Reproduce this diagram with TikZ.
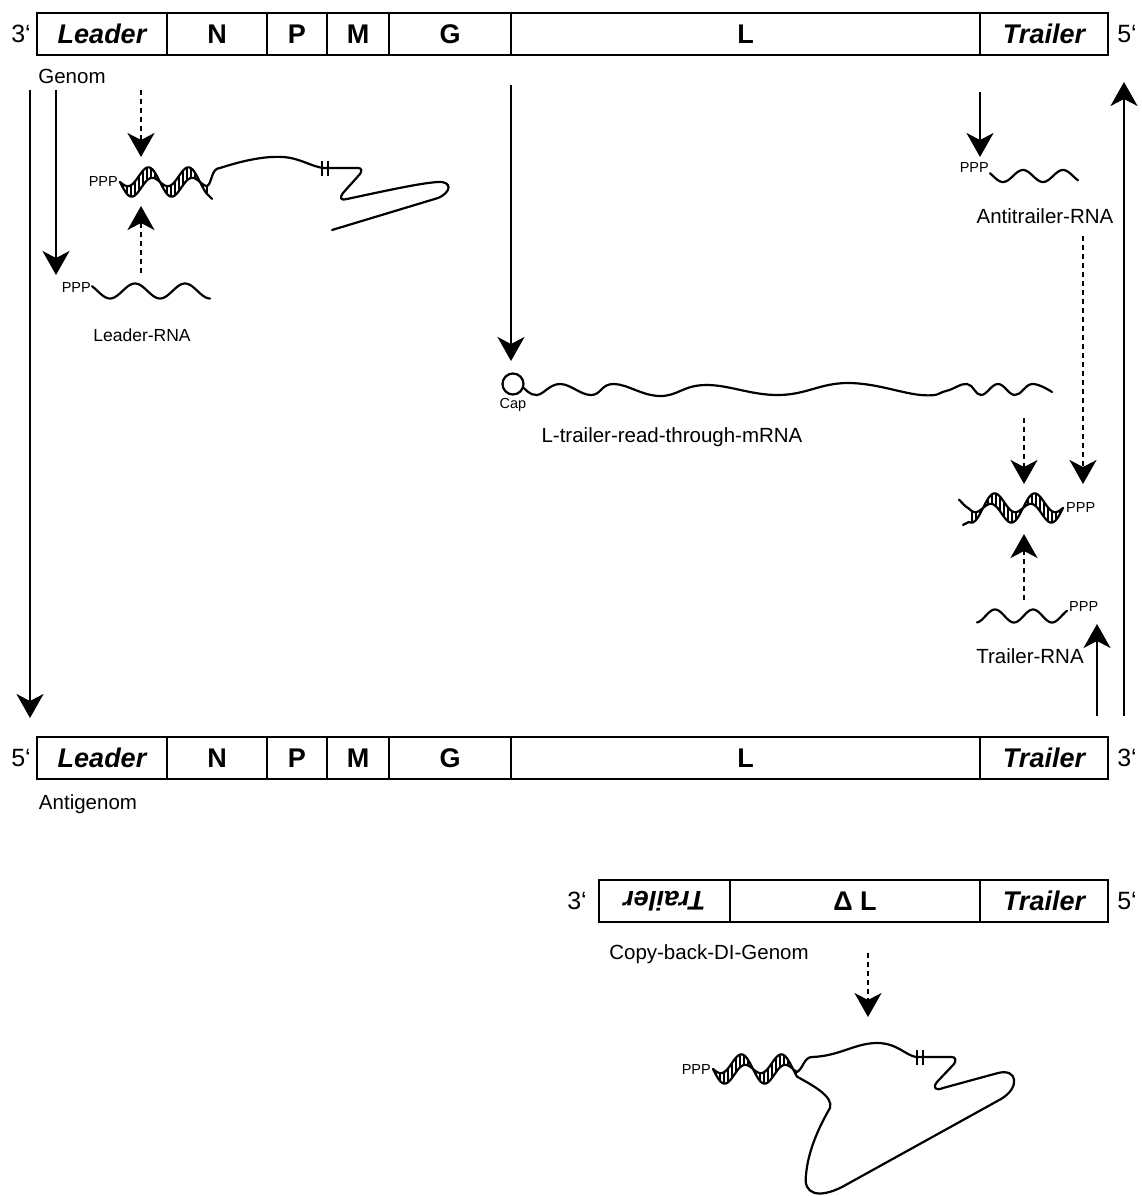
\documentclass[tikz,border=0pt]{standalone}
\usepackage{fontspec}
\setmainfont{Liberation Sans}
\usetikzlibrary{arrows.meta}

% double-stranded RNA stretch, a twisted hatched ribbon.
% #1 start x, #2 axis y, #3 length, #4 direction (+1/-1), #5 name prefix of the two strand ends
\newcommand\dsrna[5]{%
  \draw[strand] plot[domain=0:#3,samples=100,smooth]
     ({#1+#4*\x},{#2+9*sin(9*\x)+7.5*sin(4.5*\x)});
  \draw[strand] plot[domain=0:#3,samples=100,smooth]
     ({#1+#4*\x},{#2+9*sin(9*\x)-7.5*sin(4.5*\x)});
  \foreach \q in {3,7,...,#3}
    \draw[rung] ({#1+#4*\q},{#2+9*sin(9*\q)+7.5*sin(4.5*\q)})
             -- ({#1+#4*\q},{#2+9*sin(9*\q)-7.5*sin(4.5*\q)});
  \coordinate (#5a) at ({#1+#4*#3},{#2+9*sin(9*#3)+7.5*sin(4.5*#3)});
  \coordinate (#5b) at ({#1+#4*#3},{#2+9*sin(9*#3)-7.5*sin(4.5*#3)});
}

\begin{document}
\begin{tikzpicture}[x=1pt,y=-1pt,
  seg/.style={draw, line width=1.8pt, minimum height=42pt, inner sep=0pt, outer sep=0pt,
              font=\fontsize{27}{30}\selectfont\bfseries},
  segi/.style={seg, font=\fontsize{27}{30}\selectfont\bfseries\itshape},
  primelab/.style={font=\fontsize{25}{28}\selectfont, inner sep=0pt},
  lab/.style={font=\fontsize{20.5}{24}\selectfont, inner sep=0pt},
  smalllab/.style={font=\fontsize{17.5}{20}\selectfont, inner sep=0pt},
  ppp/.style={font=\fontsize{14.5}{16}\selectfont, inner sep=0pt},
  strand/.style={line width=2.2pt, line cap=round, line join=round},
  rung/.style={line width=1.5pt},
  bars/.style={line width=2.4pt},
  arr/.style={line width=2.2pt, -{Stealth[length=24pt,width=27pt,inset=7pt]}},
  darr/.style={arr, dash pattern=on 5pt off 4pt},
]
\useasboundingbox (0,0) rectangle (1142,1196);

% ---------- genome (3' -> 5') ----------
\node[primelab] (g3) at (21,34) {3‘};
\node[segi, minimum width=130pt] (gLeader) at (102,34) {Leader};
\node[seg,  minimum width=100pt] (gN) at (217,34) {N};
\node[seg,  minimum width=60pt]  (gP) at (297,34) {P};
\node[seg,  minimum width=62pt]  (gM) at (358,34) {M};
\node[seg,  minimum width=122pt] (gG) at (450,34) {G};
\node[seg,  minimum width=469pt] (gL) at (745.5,34) {L};
\node[segi, minimum width=128pt] (gTrailer) at (1044,34) {Trailer};
\node[primelab] (g5) at (1127,34) {5‘};
\node[lab] (genom) at (72,76) {Genom};

% ---------- antigenome (5' -> 3') ----------
\node[primelab] (a5) at (21,758) {5‘};
\node[segi, minimum width=130pt] (aLeader) at (102,758) {Leader};
\node[seg,  minimum width=100pt] (aN) at (217,758) {N};
\node[seg,  minimum width=60pt]  (aP) at (297,758) {P};
\node[seg,  minimum width=62pt]  (aM) at (358,758) {M};
\node[seg,  minimum width=122pt] (aG) at (450,758) {G};
\node[seg,  minimum width=469pt] (aL) at (745.5,758) {L};
\node[segi, minimum width=128pt] (aTrailer) at (1044,758) {Trailer};
\node[primelab] (a3) at (1127,758) {3‘};
\node[lab] (antigenom) at (88,804) {Antigenom};

% ---------- copy-back DI genome ----------
\node[primelab] (d3) at (577,901) {3‘};
\node[segi, minimum width=131pt, rotate=180] (dTrailerR) at (664.5,901) {Trailer};
\node[seg,  minimum width=250pt] (dL) at (855,901) {Δ L};
\node[segi, minimum width=128pt] (dTrailer) at (1044,901) {Trailer};
\node[primelab] (d5) at (1127,901) {5‘};
\node[lab] (dilab) at (709,954) {Copy-back-DI-Genom};

% ---------- replication / transcription arrows ----------
\coordinate (r1s) at (30,90);    \coordinate (r1e) at (30,718);
\coordinate (r2s) at (56,90);    \coordinate (r2e) at (56,275);
\coordinate (r3s) at (511,85);   \coordinate (r3e) at (511,361);
\coordinate (r4s) at (980,92);   \coordinate (r4e) at (980,157);
\coordinate (r5s) at (1124,716); \coordinate (r5e) at (1124,82);
\coordinate (r6s) at (1097,716); \coordinate (r6e) at (1097,624);
\draw[arr] (r1s) -- (r1e);
\draw[arr] (r2s) -- (r2e);
\draw[arr] (r3s) -- (r3e);
\draw[arr] (r4s) -- (r4e);
\draw[arr] (r5s) -- (r5e);
\draw[arr] (r6s) -- (r6e);

% ---------- annealing arrows ----------
\coordinate (h1s) at (141,90);   \coordinate (h1e) at (141,157);
\coordinate (h2s) at (141,273);  \coordinate (h2e) at (141,206);
\coordinate (h3s) at (1083,236); \coordinate (h3e) at (1083,484);
\coordinate (h4s) at (1024,418); \coordinate (h4e) at (1024,484);
\coordinate (h5s) at (1024,600); \coordinate (h5e) at (1024,534);
\coordinate (h6s) at (868,953);  \coordinate (h6e) at (868,1017);
\draw[darr] (h1s) -- (h1e);
\draw[darr] (h2s) -- (h2e);
\draw[darr] (h3s) -- (h3e);
\draw[darr] (h4s) -- (h4e);
\draw[darr] (h5s) -- (h5e);
\draw[darr] (h6s) -- (h6e);

% ---------- leader RNA ----------
\node[ppp, anchor=east] (lppp) at (91,288) {PPP};
\draw[strand] plot[domain=92:210,samples=80,smooth] (\x,{291+7.5*cos(7.2*(\x-110))});
\node[smalllab] (leaderrna) at (142,335) {Leader-RNA};

% ---------- leader RNA annealed to the genome ----------
\node[ppp, anchor=east] (hppp) at (118,182) {PPP};
\dsrna{120}{182}{87}{1}{lh}
\draw[strand] (lha) -- ++(5,5);
\draw[strand] (lhb) .. controls (212,184) and (211,168) .. (220,168)
  .. controls (245,160) and (265,156) .. (283,157)
  .. controls (300,158) and (312,167) .. (324,168) -- (358,168)
  .. controls (362,168) and (362,171) .. (360,174) -- (343,193)
  .. controls (339,198) and (341,201) .. (347,199)
  .. controls (380,192) and (420,183) .. (438,182)
  .. controls (452,181) and (452,192) .. (438,198) -- (332,230);
\draw[bars] (322,161) -- (322,176) (328,161) -- (328,176);

% ---------- L-trailer read-through mRNA ----------
\draw[line width=2.2pt] (513,384) circle (10.5);
\node[ppp] (cap) at (513,405) {Cap};
\draw[strand] plot[smooth, tension=0.7] coordinates {(524,388) (537,395) (560,384) (591,395)
  (614,384) (660,396) (706,385) (779,395) (848,383) (921,395) (946,391) (967,384) (981,395)
  (998,384) (1015,395) (1032,384) (1052,392)};
\node[lab] (mrna) at (672,437) {L-trailer-read-through-mRNA};

% ---------- antitrailer RNA ----------
\node[ppp, anchor=east] (atppp) at (989,168) {PPP};
\draw[strand] plot[domain=990:1078,samples=70,smooth] (\x,{176+6*cos(9*(\x-1003))});
\node[lab] (antitrailer) at (1045,216) {Antitrailer-RNA};

% ---------- trailer duplex ----------
\node[ppp, anchor=west] (tdppp) at (1066,508) {PPP};
\dsrna{1063}{508}{94}{-1}{th}
\draw[strand] (thb) .. controls ++(-4,-2) and ++(3,3) .. ++(-10,-9);
\draw[strand] (tha) -- ++(-6,3);

% ---------- trailer RNA ----------
\draw[strand] plot[domain=977:1067,samples=70,smooth] (\x,{616-6.5*cos(9.47*(\x-995))});
\node[ppp, anchor=west] (tppp) at (1069,607) {PPP};
\node[lab] (trailerrna) at (1030,656) {Trailer-RNA};

% ---------- panhandle of the DI genome ----------
\node[ppp, anchor=east] (dppp) at (711,1069) {PPP};
\dsrna{713}{1069}{84}{1}{dh}
\draw[strand] (dhb) .. controls (803,1069) and (804,1057) .. (812,1057)
  .. controls (840,1056) and (855,1043) .. (877,1043)
  .. controls (897,1043) and (905,1055) .. (916,1057) -- (952,1057)
  .. controls (956,1057) and (956,1061) .. (954,1064) -- (937,1082)
  .. controls (932,1088) and (936,1091) .. (943,1088) -- (998,1073)
  .. controls (1018,1068) and (1020,1088) .. (1001,1099) -- (842,1187)
  .. controls (818,1199) and (803,1194) .. (806,1175)
  .. controls (808,1150) and (820,1125) .. (830,1108)
  .. controls (834,1096) and (810,1084) .. (dha);
\draw[bars] (917,1050) -- (917,1065) (923,1050) -- (923,1065);

\end{tikzpicture}
\end{document}
